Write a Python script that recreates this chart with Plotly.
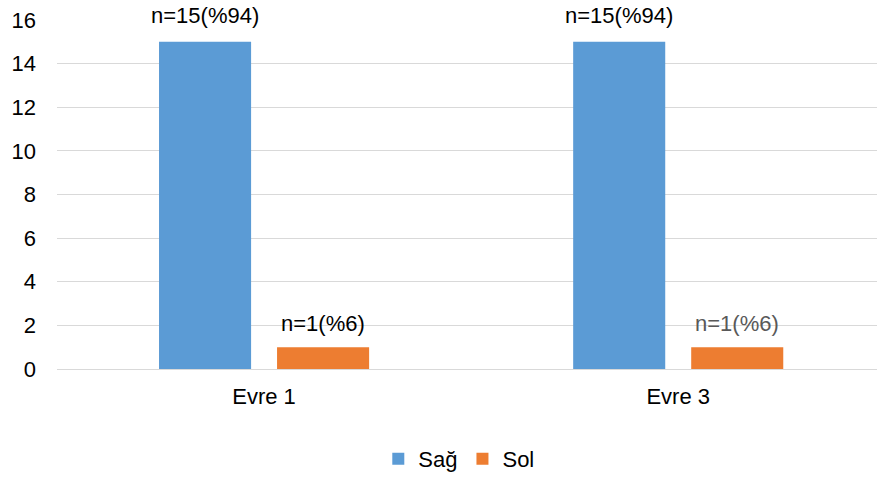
import plotly.graph_objects as go

# Data
categories = ["Evre 1", "Evre 3"]
sag_values = [15, 15]
sol_values = [1, 1]
sag_labels = ["n=15(%94)", "n=15(%94)"]
sol_labels = ["n=1(%6)", "n=1(%6)"]
y_ticks = [0, 2, 4, 6, 8, 10, 12, 14, 16]

BLUE = "#5b9bd5"
ORANGE = "#ed7d31"
FONT = "Liberation Sans, Arial, sans-serif"
SIZE = 22

fig = go.Figure()
fig.add_trace(go.Bar(name="Sağ", x=categories, y=sag_values, marker_color=BLUE,
                     marker_line_width=0))
fig.add_trace(go.Bar(name="Sol", x=categories, y=sol_values, marker_color=ORANGE,
                     marker_line_width=0))

# value labels above each bar (bar offset within its group in category units)
offset = 0.1425
label_colors_sol = ["#000000", "#595959"]
for i in range(len(categories)):
    fig.add_annotation(x=i - offset, y=sag_values[i], text=sag_labels[i],
                       xref="x", yref="y", showarrow=False, yanchor="middle",
                       yshift=26, font=dict(size=SIZE, color="#000000", family=FONT))
    fig.add_annotation(x=i + offset, y=sol_values[i], text=sol_labels[i],
                       xref="x", yref="y", showarrow=False, yanchor="middle",
                       yshift=24, font=dict(size=SIZE, color=label_colors_sol[i], family=FONT))

fig.update_layout(
    width=877, height=480,
    margin=dict(l=57, r=0, t=20, b=108),
    paper_bgcolor="white", plot_bgcolor="white",
    barmode="group", bargap=0.43, bargroupgap=0.22,
    font=dict(family=FONT, size=SIZE, color="#000000"),
    showlegend=True,
    legend=dict(orientation="h", x=0.49, xanchor="center", y=-0.259, yanchor="middle",
                font=dict(size=SIZE, color="#000000"), traceorder="normal"),
    xaxis=dict(range=[-0.5, 1.48], showgrid=False, showline=True, linecolor="#d9d9d9",
               linewidth=1, ticks="", tickfont=dict(size=SIZE), ticklabelstandoff=8),
    yaxis=dict(range=[0, 16], tickvals=y_ticks, showgrid=True, gridcolor="#d9d9d9",
               gridwidth=1, zeroline=False, showline=False, ticks="",
               tickfont=dict(size=SIZE), ticklabelstandoff=20),
)

fig.write_html("out.html")
